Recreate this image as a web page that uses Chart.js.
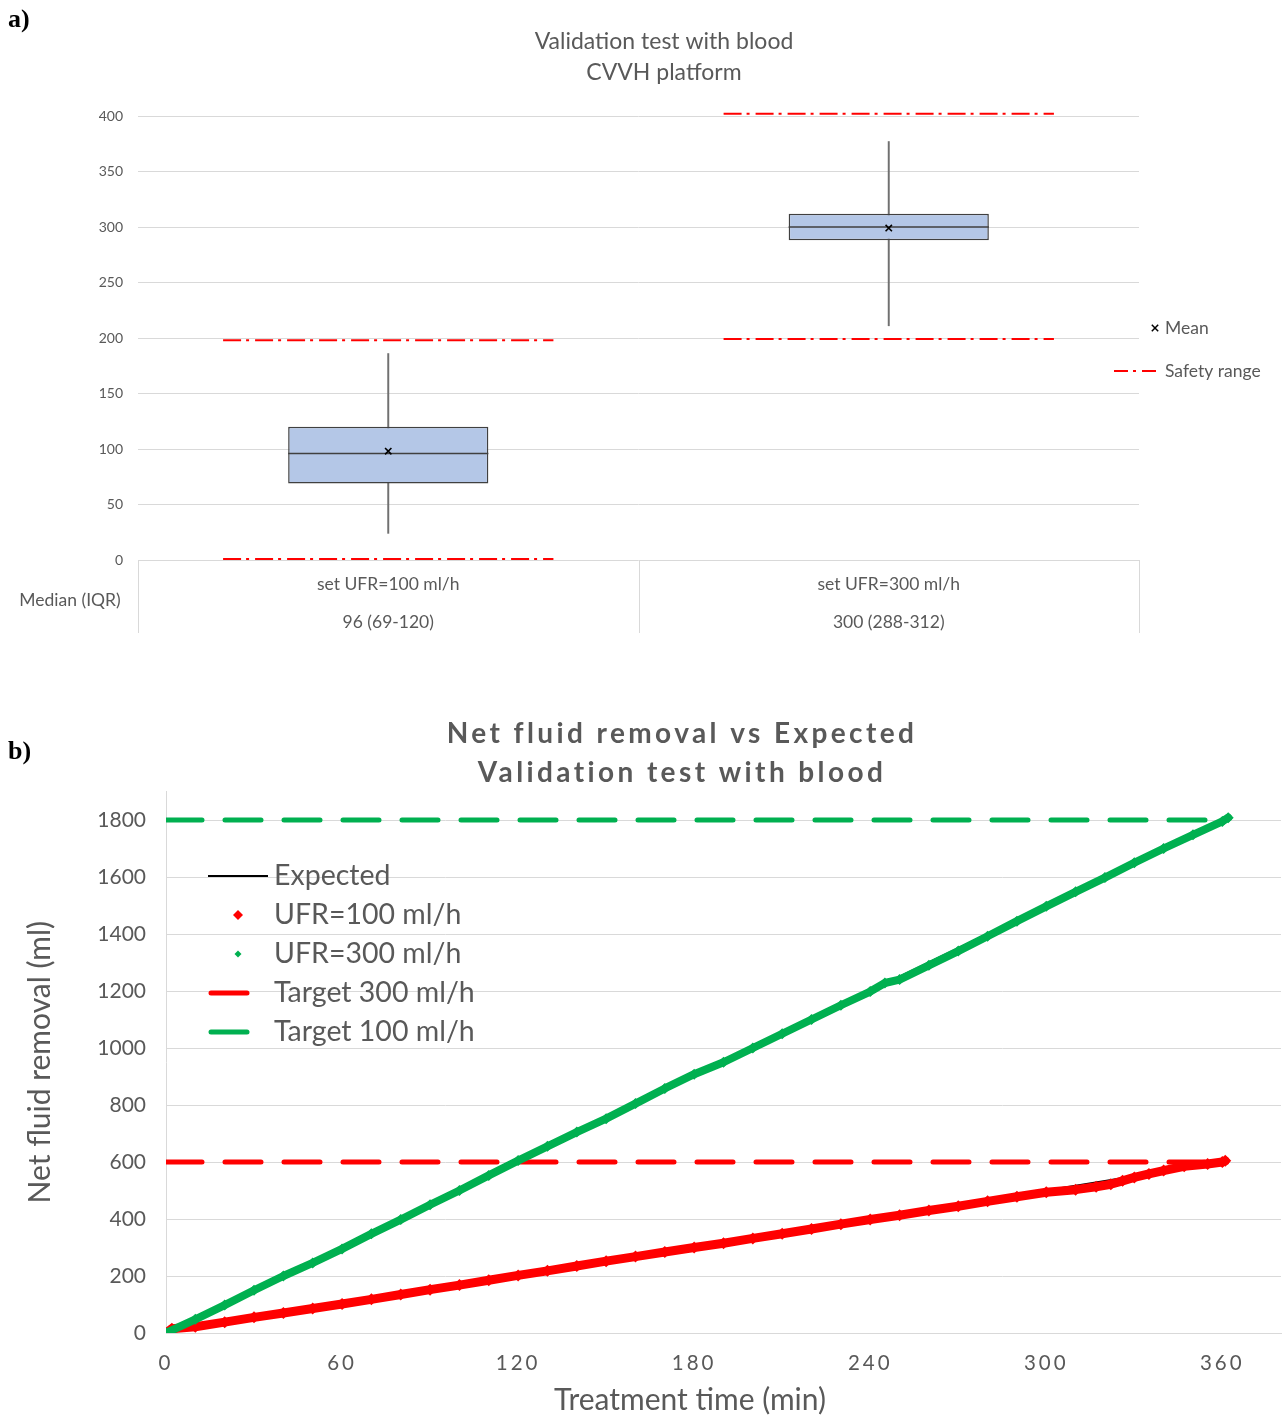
<!DOCTYPE html>
<html>
<head>
<meta charset="utf-8">
<script src="https://cdn.jsdelivr.net/npm/chart.js@4.4.1/dist/chart.umd.min.js"></script>
<style>
  html, body { margin: 0; padding: 0; background: #fff; }
  #wrap { position: relative; width: 1287px; height: 1418px; overflow: hidden; }
  .panel { position: absolute; left: 0; width: 1287px; }
  #panelA { top: 0; height: 660px; }
  #panelB { top: 700px; height: 718px; }
</style>
</head>
<body>
<div id="wrap">
  <div class="panel" id="panelA"><canvas id="boxChart"></canvas></div>
  <div class="panel" id="panelB"><canvas id="fluidChart"></canvas></div>
</div>
<script>
// ---------- Panel a: ultrafiltration rate box plots ----------
const categories = ['set UFR=100 ml/h', 'set UFR=300 ml/h'];
const medianIqrText = ['96 (69-120)', '300 (288-312)'];
const boxQ1 = [69, 288];
const boxQ3 = [120, 312];
const boxMedian = [96, 300];
const boxMean = [98, 299];
const whiskerLow = [24, 211];
const whiskerHigh = [186, 377];
const safetyLow = [1, 199];
const safetyHigh = [198, 402];
const rateTicks = [0, 50, 100, 150, 200, 250, 300, 350, 400];

// ---------- Panel b: cumulative net fluid removal ----------
const timeTicks = [0, 60, 120, 180, 240, 300, 360];
const volumeTicks = [0, 200, 400, 600, 800, 1000, 1200, 1400, 1600, 1800];
const expectedTime = [0, 360];
const expected100 = [0, 600];
const expected300 = [0, 1800];
const targetTime = [0, 360];
const targetRed = [600, 600];
const targetGreen = [1800, 1800];
const ufr100Time = [0, 2, 10, 20, 30, 40, 50, 60, 70, 80, 90, 100, 110, 120, 130, 140, 150, 160, 170, 180,
  190, 200, 210, 220, 230, 240, 250, 260, 270, 280, 290, 300, 310, 317, 322, 326, 330, 335, 340, 347, 355, 360, 361];
const ufr100Volume = [0, 15, 22, 38, 55, 70, 86, 102, 118, 135, 152, 168, 185, 202, 218, 235, 252, 268, 284, 300,
  315, 332, 348, 365, 382, 398, 413, 430, 445, 462, 478, 494, 503, 513, 522, 534, 546, 558, 570, 585, 593, 600, 604];
const ufr300Time = [0, 10, 20, 30, 40, 50, 60, 70, 80, 90, 100, 110, 120, 130, 140, 150, 160, 170, 180, 190,
  200, 210, 220, 230, 240, 245, 250, 260, 270, 280, 290, 300, 310, 320, 330, 340, 350, 360, 362];
const ufr300Volume = [0, 48, 98, 150, 200, 246, 295, 348, 398, 450, 500, 553, 605, 655, 705, 752, 805, 858, 908, 950,
  1000, 1050, 1100, 1150, 1198, 1228, 1240, 1290, 1340, 1392, 1445, 1497, 1548, 1598, 1650, 1700, 1748, 1795, 1808];

const FONT = 'Lato, "Open Sans", sans-serif';
const GREY = '#595959';
const GRID = '#d9d9d9';
const RED = '#ff0000';
const GREEN = '#00b050';
const BOX_FILL = '#b4c7e7';
const BOX_EDGE = '#404040';
const SAFETY_DASH = [18, 5, 3, 6];

const pairs = (xs, ys) => xs.map((x, i) => ({ x: x, y: ys[i] }));
const centre = i => i + 0.5;
const BOX_SHARE = 0.4;           // box width as a share of a category slot
const SAFETY_HALF = 0.33;        // half length of the safety-range lines
const plainNumber = v => String(v);

function segments(values, half) {
  const pts = [];
  values.forEach((v, i) => {
    pts.push({ x: centre(i) - half, y: v }, { x: centre(i) + half, y: v }, { x: centre(i) + 0.5, y: null });
  });
  return pts;
}

function panelLabel(text) {
  return {
    id: 'panelLabel',
    afterDraw(chart) {
      const ctx = chart.ctx;
      ctx.save();
      ctx.letterSpacing = '0px';
      ctx.font = 'bold 26px "Liberation Serif", "DejaVu Serif", serif';
      ctx.fillStyle = '#000';
      ctx.textBaseline = 'middle';
      ctx.fillText(text.t, text.x, text.y);
      ctx.restore();
    }
  };
}

// Titles, legend and the median (IQR) table under the box plots
const boxDecor = {
  id: 'boxDecor',
  afterDraw(chart) {
    const ctx = chart.ctx;
    const xs = chart.scales.x;
    const area = chart.chartArea;
    ctx.save();
    ctx.fillStyle = GREY;
    ctx.textAlign = 'center';
    ctx.textBaseline = 'middle';
    ctx.font = '23px ' + FONT;
    ctx.fillText('Validation test with blood', 664, 42);
    ctx.fillText('CVVH platform', 664, 73);

    // table below the axis
    ctx.strokeStyle = GRID;
    ctx.lineWidth = 1;
    for (let k = 0; k <= categories.length; k++) {
      const px = Math.round(xs.getPixelForValue(k)) + 0.5;
      ctx.beginPath();
      ctx.moveTo(px, area.bottom);
      ctx.lineTo(px, area.bottom + 73);
      ctx.stroke();
    }
    ctx.font = '17.5px ' + FONT;
    categories.forEach((c, i) => {
      const px = xs.getPixelForValue(centre(i));
      ctx.fillText(c, px, area.bottom + 24);
      ctx.fillText(medianIqrText[i], px, area.bottom + 62);
    });
    ctx.fillText('Median (IQR)', 70, area.bottom + 40);

    // legend
    ctx.textAlign = 'left';
    ctx.font = '17.5px ' + FONT;
    ctx.fillText('Mean', 1165, 328);
    ctx.fillText('Safety range', 1165, 371);
    ctx.strokeStyle = '#000';
    ctx.lineWidth = 1.5;
    const m = 3.2, mx = 1155, my = 328;
    ctx.beginPath();
    ctx.moveTo(mx - m, my - m); ctx.lineTo(mx + m, my + m);
    ctx.moveTo(mx + m, my - m); ctx.lineTo(mx - m, my + m);
    ctx.stroke();
    ctx.strokeStyle = RED;
    ctx.lineWidth = 2;
    ctx.setLineDash([14, 5, 3, 6]);
    ctx.beginPath();
    ctx.moveTo(1114, 371); ctx.lineTo(1158, 371);
    ctx.stroke();
    ctx.restore();
  }
};

new Chart(document.getElementById('boxChart'), {
  type: 'bar',
  data: {
    datasets: [
      {
        label: 'Whiskers',
        data: categories.map((c, i) => ({ x: centre(i), y: [whiskerLow[i], whiskerHigh[i]] })),
        backgroundColor: '#707070',
        barThickness: 1.3,
        grouped: false,
        order: 4
      },
      {
        label: 'IQR',
        data: categories.map((c, i) => ({ x: centre(i), y: [boxQ1[i], boxQ3[i]] })),
        backgroundColor: BOX_FILL,
        borderColor: BOX_EDGE,
        borderWidth: 1.5,
        borderSkipped: false,
        categoryPercentage: 1,
        barPercentage: BOX_SHARE,
        grouped: false,
        order: 3
      },
      {
        type: 'line',
        label: 'Median',
        data: segments(boxMedian, BOX_SHARE / 2),
        borderColor: BOX_EDGE,
        borderWidth: 1.5,
        pointRadius: 0,
        spanGaps: false,
        order: 2
      },
      {
        type: 'line',
        label: 'Mean',
        data: categories.map((c, i) => ({ x: centre(i), y: boxMean[i] })),
        showLine: false,
        pointStyle: 'crossRot',
        pointRadius: 4.5,
        pointBorderWidth: 1.6,
        pointBorderColor: '#000',
        order: 1
      },
      {
        type: 'line',
        label: 'Safety range',
        data: segments(safetyLow, SAFETY_HALF),
        borderColor: RED,
        borderWidth: 2,
        borderDash: SAFETY_DASH,
        pointRadius: 0,
        spanGaps: false,
        clip: false,
        order: 1
      },
      {
        type: 'line',
        label: 'Safety range upper',
        data: segments(safetyHigh, SAFETY_HALF),
        borderColor: RED,
        borderWidth: 2,
        borderDash: SAFETY_DASH,
        pointRadius: 0,
        spanGaps: false,
        clip: false,
        order: 1
      }
    ]
  },
  options: {
    responsive: true,
    maintainAspectRatio: false,
    animation: false,
    layout: { padding: { top: 116, right: 148, bottom: 100, left: 0 } },
    plugins: { legend: { display: false }, tooltip: { enabled: false } },
    scales: {
      x: {
        type: 'linear',
        min: 0,
        max: categories.length,
        offset: false,
        display: false,
        ticks: { stepSize: 1 }
      },
      y: {
        min: 0,
        max: 400,
        afterBuildTicks: s => { s.ticks = rateTicks.map(v => ({ value: v })); },
        afterFit: s => { s.width = 138; },
        grid: { color: GRID, drawTicks: false },
        border: { display: false },
        ticks: { color: GREY, font: { family: FONT, size: 14 }, padding: 15, callback: plainNumber }
      }
    }
  },
  plugins: [boxDecor, panelLabel({ t: 'a)', x: 8, y: 20 })]
});

// The time-axis labels are drawn after the datasets with wider letter spacing
const spacedTimeLabels = {
  id: 'spacedTimeLabels',
  afterDatasetsDraw(chart) { chart.ctx.letterSpacing = '3px'; },
  afterDraw(chart) { chart.ctx.letterSpacing = '0px'; }
};

// Titles, legend and x-axis title for the fluid removal chart
const fluidDecor = {
  id: 'fluidDecor',
  afterDraw(chart) {
    const ctx = chart.ctx;
    ctx.save();
    ctx.fillStyle = GREY;
    ctx.textAlign = 'center';
    ctx.textBaseline = 'middle';
    ctx.font = 'bold 28px ' + FONT;
    ctx.letterSpacing = '3.4px';
    ctx.fillText('Net fluid removal vs Expected', 682, 34);
    ctx.fillText('Validation test with blood', 682, 73);
    ctx.letterSpacing = '0px';
    ctx.font = '30px ' + FONT;
    ctx.fillText('Treatment time (min)', 690, 700);

    // legend inside the plot
    const ds = chart.data.datasets;
    const entries = [
      { idx: 2, kind: 'line' },
      { idx: 4, kind: 'point' },
      { idx: 5, kind: 'point' },
      { idx: 0, kind: 'bar' },
      { idx: 1, kind: 'bar' }
    ];
    ctx.textAlign = 'left';
    entries.forEach((e, k) => {
      const d = ds[e.idx];
      const y = 176 + k * 39;
      ctx.setLineDash([]);
      if (e.kind === 'line') {
        ctx.strokeStyle = d.borderColor;
        ctx.lineWidth = 2;
        ctx.beginPath(); ctx.moveTo(208, y); ctx.lineTo(268, y); ctx.stroke();
      } else if (e.kind === 'point') {
        const r = d.legendSize;
        ctx.fillStyle = d.pointBackgroundColor;
        ctx.beginPath();
        ctx.moveTo(238, y - r); ctx.lineTo(238 + r, y); ctx.lineTo(238, y + r); ctx.lineTo(238 - r, y);
        ctx.closePath(); ctx.fill();
      } else {
        ctx.strokeStyle = d.borderColor;
        ctx.lineWidth = 5;
        ctx.lineCap = 'round';
        ctx.beginPath(); ctx.moveTo(211, y); ctx.lineTo(247, y); ctx.stroke();
      }
      ctx.fillStyle = GREY;
      ctx.font = '28.5px ' + FONT;
      ctx.fillText(d.label, 274, y);
    });
    ctx.restore();
  }
};

new Chart(document.getElementById('fluidChart'), {
  type: 'line',
  data: {
    datasets: [
      {
        label: 'Target 300 ml/h',
        data: pairs(targetTime, targetRed),
        borderColor: RED,
        borderWidth: 5,
        borderDash: [36, 23],
        borderCapStyle: 'round',
        pointRadius: 0,
        order: 6
      },
      {
        label: 'Target 100 ml/h',
        data: pairs(targetTime, targetGreen),
        borderColor: GREEN,
        borderWidth: 5,
        borderDash: [36, 23],
        borderCapStyle: 'round',
        pointRadius: 0,
        order: 6
      },
      {
        label: 'Expected',
        data: pairs(expectedTime, expected100),
        borderColor: '#000',
        borderWidth: 2,
        pointRadius: 0,
        order: 5
      },
      {
        label: 'Expected (300 ml/h)',
        data: pairs(expectedTime, expected300),
        borderColor: '#000',
        borderWidth: 2,
        pointRadius: 0,
        order: 5
      },
      {
        label: 'UFR=100 ml/h',
        data: pairs(ufr100Time, ufr100Volume),
        borderColor: RED,
        borderWidth: 9,
        borderJoinStyle: 'round',
        borderCapStyle: 'round',
        pointStyle: 'rectRot',
        pointRadius: 6,
        pointBorderWidth: 0,
        pointBackgroundColor: RED,
        legendSize: 5,
        order: 2
      },
      {
        label: 'UFR=300 ml/h',
        data: pairs(ufr300Time, ufr300Volume),
        borderColor: GREEN,
        borderWidth: 8,
        borderJoinStyle: 'round',
        borderCapStyle: 'round',
        pointStyle: 'rectRot',
        pointRadius: 5.5,
        pointBorderWidth: 0,
        pointBackgroundColor: GREEN,
        legendSize: 3.5,
        order: 1
      }
    ]
  },
  options: {
    responsive: true,
    maintainAspectRatio: false,
    animation: false,
    layout: { padding: { top: 91.5, right: 2, bottom: 0, left: 0 } },
    plugins: { legend: { display: false }, tooltip: { enabled: false } },
    scales: {
      x: {
        type: 'linear',
        min: 0,
        max: 380,
        afterBuildTicks: s => { s.ticks = timeTicks.map(v => ({ value: v })); },
        afterFit: s => { s.height = 85; },
        grid: { display: false, drawTicks: false },
        border: { display: true, color: GRID },
        ticks: { color: GREY, font: { family: FONT, size: 20.5 }, padding: 18, z: 1, callback: plainNumber }
      },
      y: {
        min: 0,
        max: 1900,
        afterBuildTicks: s => { s.ticks = volumeTicks.map(v => ({ value: v })); },
        afterFit: s => { s.width = 166; },
        grid: { color: GRID, drawTicks: false },
        border: { display: true, color: GRID },
        ticks: { color: GREY, font: { family: FONT, size: 21 }, padding: 20, callback: plainNumber },
        title: {
          display: true,
          text: 'Net fluid removal (ml)',
          color: GREY,
          font: { family: FONT, size: 30 },
          padding: { top: 22, bottom: 0 }
        }
      }
    }
  },
  plugins: [spacedTimeLabels, fluidDecor, panelLabel({ t: 'b)', x: 8, y: 52 })]
});
</script>
</body>
</html>
